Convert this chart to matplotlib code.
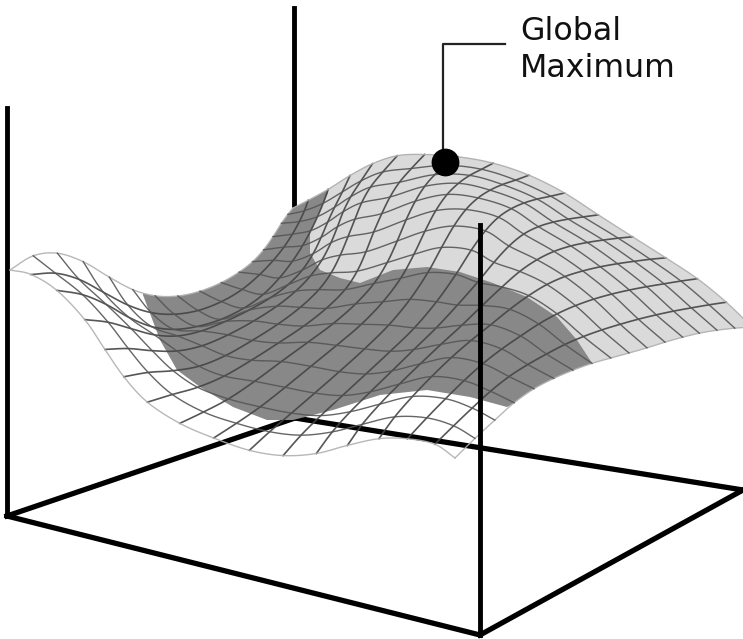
"""Global maximum sketch: wire surface over a box frame, shaded by level."""
import numpy as np
import matplotlib.pyplot as plt
from matplotlib.patches import Polygon

# mesh nodes (pixels), one row per cross line
mesh_x = np.array([
    [10, 33, 57, 83, 110, 133, 155, 178, 200, 222, 240, 253, 264, 273, 282, 288, 293],
    [30, 53, 77, 100, 127, 150, 173, 198, 222, 243, 262, 275, 285, 293, 300, 304, 307],
    [56, 85, 108, 130, 150, 172, 195, 218, 245, 262, 278, 292, 303, 312, 318, 323, 328],
    [87, 110, 132, 155, 178, 202, 225, 250, 272, 290, 305, 315, 322, 328, 335, 343, 350],
    [105, 128, 152, 177, 202, 228, 257, 280, 297, 312, 323, 333, 338, 342, 349, 360, 372],
    [123, 147, 172, 198, 225, 252, 278, 300, 320, 330, 338, 345, 352, 358, 366, 380, 397],
    [145, 170, 195, 222, 250, 278, 303, 325, 347, 356, 364, 371, 380, 388, 397, 409, 423],
    [180, 203, 228, 255, 282, 308, 335, 358, 376, 390, 400, 408, 416, 425, 435, 447, 458],
    [213, 236, 260, 285, 311, 337, 362, 384, 402, 414, 424, 435, 448, 460, 471, 482, 493],
    [250, 270, 292, 315, 340, 365, 390, 410, 428, 440, 452, 464, 476, 488, 500, 515, 529],
    [283, 300, 320, 342, 365, 392, 417, 440, 460, 475, 490, 503, 515, 527, 540, 552, 565],
    [317, 333, 350, 370, 392, 412, 434, 455, 478, 492, 506, 520, 535, 550, 565, 582, 598],
    [347, 360, 378, 398, 420, 440, 462, 482, 502, 520, 538, 556, 573, 590, 606, 620, 633],
    [380, 393, 412, 431, 451, 470, 490, 509, 528, 546, 564, 582, 600, 617, 634, 650, 666],
    [407, 430, 448, 466, 485, 504, 523, 540, 558, 577, 595, 613, 630, 648, 665, 682, 698],
    [437, 455, 473, 491, 509, 527, 546, 564, 583, 601, 620, 638, 657, 673, 692, 710, 727],
    [455, 475, 495, 514, 534, 554, 573, 592, 611, 629, 647, 665, 683, 699, 717, 735, 752],
], dtype=float)
mesh_y = np.array([
    [270, 253, 251, 260, 278, 291, 297, 297, 292, 283, 272, 262, 250, 237, 222, 214, 208],
    [272, 270, 278, 294, 308, 315, 316, 312, 302, 290, 272, 258, 246, 234, 222, 212, 201],
    [287, 290, 303, 322, 333, 337, 335, 330, 315, 302, 282, 264, 248, 232, 218, 205, 190],
    [320, 322, 330, 336, 336, 330, 318, 305, 295, 283, 272, 255, 238, 222, 207, 192, 175],
    [350, 348, 352, 352, 347, 336, 320, 306, 290, 275, 258, 240, 225, 212, 198, 181, 163],
    [377, 371, 372, 370, 360, 340, 325, 307, 288, 272, 255, 235, 218, 200, 184, 170, 154],
    [403, 395, 390, 380, 360, 345, 328, 312, 292, 275, 255, 235, 217, 200, 185, 170, 154],
    [425, 415, 402, 380, 360, 340, 322, 302, 282, 262, 240, 218, 198, 182, 170, 162, 156],
    [438, 424, 408, 388, 366, 345, 326, 303, 280, 255, 230, 207, 189, 180, 173, 168, 162],
    [452, 433, 414, 394, 373, 350, 324, 297, 270, 243, 222, 206, 196, 189, 183, 179, 174],
    [457, 437, 418, 398, 376, 352, 330, 304, 270, 245, 225, 213, 206, 200, 197, 195, 192],
    [455, 432, 412, 393, 372, 350, 330, 305, 284, 265, 247, 233, 226, 222, 219, 217, 215],
    [445, 425, 405, 385, 364, 345, 325, 305, 285, 268, 258, 250, 245, 242, 240, 238, 237],
    [437, 413, 393, 372, 352, 336, 321, 305, 292, 281, 274, 270, 266, 263, 261, 259, 258],
    [438, 415, 397, 379, 362, 346, 334, 322, 312, 305, 298, 293, 289, 286, 283, 280, 278],
    [442, 425, 407, 391, 376, 366, 355, 345, 337, 330, 325, 320, 316, 312, 309, 305, 302],
    [458, 438, 420, 402, 388, 378, 370, 363, 358, 353, 348, 342, 337, 333, 330, 328, 327],
], dtype=float)

# shaded zones
dark_x = [143, 160, 177, 200, 233, 267, 293, 333, 380, 427, 470, 507, 592, 620, 300, 143]
dark_y = [295, 340, 370, 387, 407, 420, 420, 410, 395, 390, 397, 407, 363, 140, 140, 250]
light_x = [328, 310, 310, 320, 340, 360, 393, 427, 460, 493, 527, 557, 577, 592, 610, 770, 770, 328]
light_y = [193, 233, 253, 270, 278, 283, 270, 267, 272, 283, 297, 317, 340, 363, 400, 400, 100, 100]

# box frame
corner_x = [7, 295, 743, 480]
corner_y = [516, 418, 490, 635]
pillar_x = [7, 294, 480]
pillar_top = [108, 8, 225]
pillar_bottom = [516, 208, 635]


def relax(m, passes=2):
    """even out reading noise, corners stay put, rim nodes move less"""
    m = m.copy()
    for _ in range(passes):
        n = m.copy()
        n[1:-1, 1:-1] = 0.5 * m[1:-1, 1:-1] + 0.125 * (m[:-2, 1:-1] + m[2:, 1:-1]
                                                       + m[1:-1, :-2] + m[1:-1, 2:])
        n[0, 1:-1] = 0.8 * m[0, 1:-1] + 0.1 * (m[0, :-2] + m[0, 2:])
        n[-1, 1:-1] = 0.8 * m[-1, 1:-1] + 0.1 * (m[-1, :-2] + m[-1, 2:])
        n[1:-1, 0] = 0.8 * m[1:-1, 0] + 0.1 * (m[:-2, 0] + m[2:, 0])
        n[1:-1, -1] = 0.8 * m[1:-1, -1] + 0.1 * (m[:-2, -1] + m[2:, -1])
        m = n
    return m


def curve(x, y, sub=6):
    """catmull-rom through the nodes so the wires are not polygons"""
    p = np.column_stack([x, y])
    p = np.vstack([2 * p[0] - p[1], p, 2 * p[-1] - p[-2]])
    t = np.linspace(0, 1, sub, endpoint=False)[:, None]
    out = []
    for i in range(1, len(p) - 2):
        a, b, c, d = p[i - 1], p[i], p[i + 1], p[i + 2]
        out.append(0.5 * (2 * b + (c - a) * t + (2 * a - 5 * b + 4 * c - d) * t ** 2
                          + (3 * b - a - 3 * c + d) * t ** 3))
    out.append(p[-2][None, :])
    return np.vstack(out)


xs = relax(mesh_x)
ys = relax(mesh_y)

fig = plt.figure(figsize=(7.43, 6.39), dpi=100)
ax = fig.add_axes([0, 0, 1, 1])
ax.set_xlim(0, 743)
ax.set_ylim(639, 0)
ax.axis('off')

# frame first, the surface sits partly over it
for i, j in [(0, 1), (1, 2), (0, 3), (3, 2)]:
    ax.plot([corner_x[i], corner_x[j]], [corner_y[i], corner_y[j]], color='black',
            lw=3.8, solid_capstyle='projecting', zorder=1)
ax.plot([pillar_x[0]] * 2, [pillar_top[0], pillar_bottom[0]], color='black', lw=3.5, zorder=1)
ax.plot([pillar_x[1]] * 2, [pillar_top[1], pillar_bottom[1]], color='black', lw=3.5, zorder=1)

edge_l = curve(xs[0], ys[0])
edge_t = curve(xs[:, -1], ys[:, -1])
edge_r = curve(xs[-1], ys[-1])[::-1]
edge_b = curve(xs[:, 0], ys[:, 0])[::-1]
clip = Polygon(np.vstack([edge_l, edge_t, edge_r, edge_b]), closed=True, transform=ax.transData)

dark = ax.fill(dark_x, dark_y, color='#888888', lw=0, zorder=2)[0]
light = ax.fill(light_x, light_y, color='#dadada', lw=0, zorder=3)[0]
dark.set_clip_path(clip)
light.set_clip_path(clip)

for row in range(xs.shape[0]):
    c = curve(xs[row], ys[row])
    edge = row in (0, 16)
    ax.plot(c[:, 0], c[:, 1], color='#b0b0b0' if edge else '#444444', lw=1.0 if edge else 1.2,
            alpha=0.9, zorder=4)
for col in range(xs.shape[1]):
    c = curve(xs[:, col], ys[:, col])
    edge = col in (0, 16)
    ax.plot(c[:, 0], c[:, 1], color='#b0b0b0' if edge else '#555555', lw=1.0,
            alpha=0.9, zorder=4)

ax.plot([pillar_x[2]] * 2, [pillar_top[2], pillar_bottom[2]], color='black', lw=3.5, zorder=5)

# callout
ax.plot([505, 443, 443], [44, 44, 160], color='#222222', lw=1.6, zorder=6)
ax.scatter([445], [162], s=400, color='black', zorder=7, linewidths=0)
ax.text(520, 40, 'Global', fontsize=22.8, family='DejaVu Sans', color='#111111', va='baseline')
ax.text(520, 77, 'Maximum', fontsize=22.8, family='DejaVu Sans', color='#111111', va='baseline')

plt.savefig('out.png', dpi=100)
plt.close()
